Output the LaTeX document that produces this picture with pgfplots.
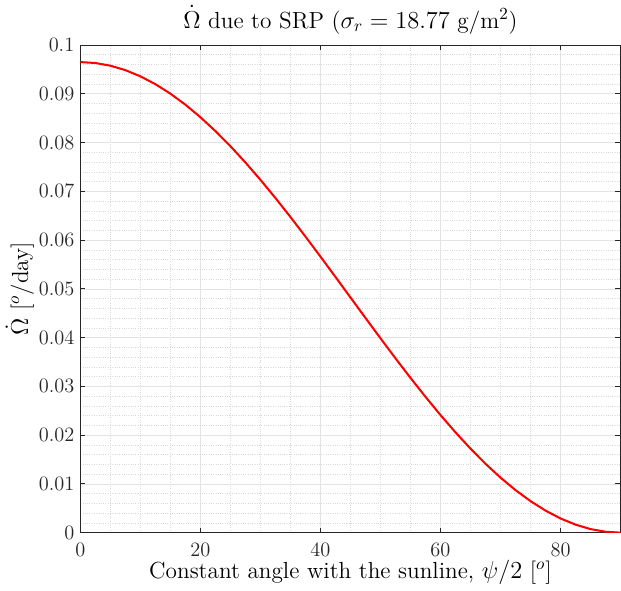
\documentclass[border=0pt]{standalone}
\usepackage{pgfplots}
\pgfplotsset{compat=1.18}
\definecolor{axgray}{rgb}{0.15,0.15,0.15}
\begin{document}
\begin{tikzpicture}
\begin{axis}[
  scale only axis,
  width=318pt, height=287pt,
  xmin=0, xmax=90, ymin=0, ymax=0.1,
  xtick={0,20,40,60,80},
  ytick={0,0.01,0.02,0.03,0.04,0.05,0.06,0.07,0.08,0.09,0.1},
  minor x tick num=3,
  minor y tick num=4,
  minor tick length=0pt,
  major tick length=3pt,
  tick align=inside,
  axis line style={axgray, line width=0.5pt},
  tick style={axgray, line width=0.5pt},
  grid=both,
  major grid style={gray!22, line width=0.4pt},
  minor grid style={gray!30, line width=0.35pt, densely dotted},
  yticklabel style={/pgf/number format/fixed, /pgf/number format/precision=2},
  xticklabel style={yshift=-3pt},
  ticklabel style={font=\fontsize{12.2}{14}\selectfont, text=axgray},
  scaled y ticks=false,
  title={$\dot{\Omega}$ due to SRP ($\sigma_r = 18.77$ g/m$^2$)},
  title style={font=\fontsize{13.7}{16}\selectfont, yshift=-3pt},
  xlabel={Constant angle with the sunline, $\psi/2$ [$^o$]},
  ylabel={$\dot{\Omega}$ [$^o$/day]},
  label style={font=\fontsize{13.7}{16}\selectfont},
  xlabel style={yshift=5pt},
  ylabel style={yshift=-4pt},
]
\addplot[red, line width=1.2pt] coordinates {
(0,0.096500) (2.5,0.096316) (5,0.095767) (7.5,0.094856) (10,0.093590)
(12.5,0.091979) (15,0.090036) (17.5,0.087774) (20,0.085212) (22.5,0.082368)
(25,0.079265) (27.5,0.075925) (30,0.072375) (32.5,0.068641) (35,0.064752)
(37.5,0.060738) (40,0.056629) (42.5,0.052455) (45,0.048250) (47.5,0.044045)
(50,0.039871) (52.5,0.035762) (55,0.031748) (57.5,0.027859) (60,0.024125)
(62.5,0.020575) (65,0.017235) (67.5,0.014132) (70,0.011288) (72.5,0.008726)
(75,0.006464) (77.5,0.004521) (80,0.002910) (82.5,0.001644) (85,0.000733)
(87.5,0.000184) (90,0)
};
\end{axis}
\end{tikzpicture}
\end{document}
